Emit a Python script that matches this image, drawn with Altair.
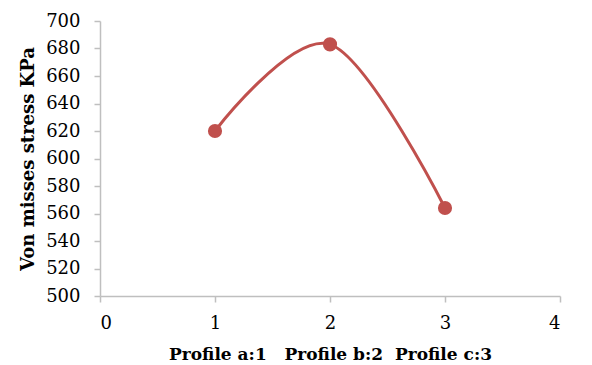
import altair as alt
import pandas as pd

profile_num = [1, 2, 3]
stress = [620, 683, 564]

df = pd.DataFrame({"x": profile_num, "y": stress})

FONT = "DejaVu Serif"
color = "#C0504D"
NB = "\u00a0"
xtitle = f"Profile a:1{NB}{NB}{NB}Profile b:2{NB}{NB}Profile c:3"

base = alt.Chart(df).encode(
    x=alt.X("x:Q", scale=alt.Scale(domain=[0, 4], nice=False),
            axis=alt.Axis(values=[0, 1, 2, 3, 4], title=xtitle,
                          grid=False, format="d", labelPadding=12,
                          titleFontSize=17, titlePadding=14)),
    y=alt.Y("y:Q", scale=alt.Scale(domain=[500, 700], nice=False, zero=False),
            axis=alt.Axis(values=list(range(500, 701, 20)), title="Von misses stress KPa",
                          grid=False, labelPadding=14, titleFontSize=18, titlePadding=8)),
)

line = base.mark_line(interpolate="cardinal", color=color, strokeWidth=3)
pts = base.mark_circle(size=200, color=color, opacity=1)

chart = (line + pts).properties(
    width=460, height=275,
    padding={"left": 100, "top": 21, "right": 32, "bottom": 69},
    autosize=alt.AutoSizeParams(type="none"),
).configure_view(stroke=None).configure_axis(
    domainColor="#BFBFBF", tickColor="#BFBFBF", domainWidth=1.5, tickWidth=1.5,
    tickSize=6, labelFont=FONT, labelFontSize=18, labelColor="black",
    titleFont=FONT, titleFontWeight="bold", titleColor="black",
)

chart.save("out.html", embed_options={"renderer": "svg", "actions": False})
